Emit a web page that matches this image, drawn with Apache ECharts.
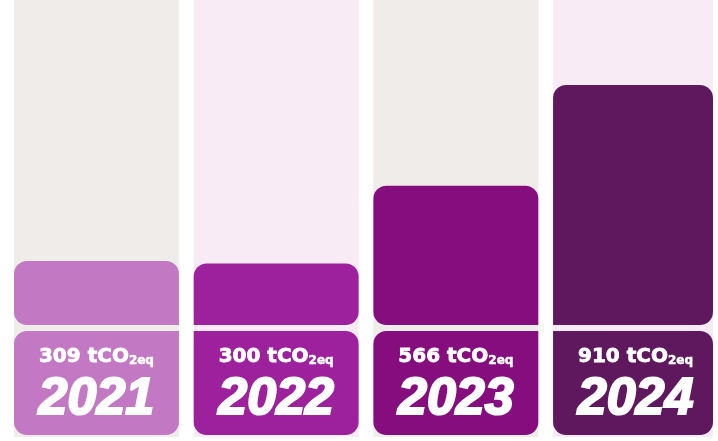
<!DOCTYPE html>
<html><head><meta charset="utf-8">
<script src="https://cdn.jsdelivr.net/npm/echarts@6/dist/echarts.min.js"></script>
<style>html,body{margin:0;padding:0;background:#fff}#c{width:718px;height:441px}</style>
</head><body><div id="c"></div>
<script>
// Data
const years = ['2021', '2022', '2023', '2024'];
const emissions = [309, 300, 566, 910];
const unitMain = 'tCO';
const unitSub = '2eq';
const barColors = ['#c278c3', '#9d209c', '#850d7e', '#5f185e'];
const bgColors = ['#f0ecea', '#f8ebf5', '#f0ecea', '#f8ebf5'];

const Y_MIN = 90, Y_MAX = 1200;
const R = 13;

const chart = echarts.init(document.getElementById('c'), null, { renderer: 'canvas' });

function renderItem(params, api) {
  const i = params.dataIndex;
  const v = api.value(1);
  const top = api.coord([i, v]);
  const base = api.coord([i, Y_MIN]);
  const band = api.size([1, 0])[0];
  const w = band * 0.918;
  const x0 = top[0] - w / 2;
  const limit = api.getWidth() - 5;
  const ww = Math.min(w, limit - x0);
  const cs = params.coordSys;
  const even = i % 2 === 0;
  const barR = even ? [R, R, 0, R] : [R, R, R, 0];
  const lblR = even ? [R, 0, R, R] : [0, R, R, R];
  return {
    type: 'group',
    children: [
      { type: 'rect', shape: { x: x0, y: cs.y, width: ww, height: base[1] + 112 - cs.y }, style: { fill: bgColors[i] } },
      { type: 'rect', shape: { x: x0, y: top[1], width: ww, height: base[1] - top[1], r: barR }, style: { fill: barColors[i] } },
      { type: 'rect', shape: { x: x0, y: base[1] + 6, width: ww, height: 104, r: lblR }, style: { fill: barColors[i] } },
      {
        type: 'text', x: top[0], y: base[1] + 32,
        style: {
          text: '{v|' + v + ' ' + unitMain + '}{s|' + unitSub + '}',
          align: 'center', verticalAlign: 'middle',
          rich: {
            v: { fontFamily: 'DejaVu Sans', fontWeight: 'bold', fontSize: 20, fill: '#fff', verticalAlign: 'bottom', stroke: '#fff', lineWidth: 0.8 },
            s: { fontFamily: 'DejaVu Sans', fontWeight: 'bold', fontSize: 12, fill: '#fff', verticalAlign: 'bottom', stroke: '#fff', lineWidth: 0.5 }
          }
        }
      },
      {
        type: 'text', x: top[0], y: base[1] + 75,
        style: {
          text: years[i], fill: '#fff', align: 'center', verticalAlign: 'middle',
          fontFamily: 'Liberation Sans', fontWeight: 'bold', fontStyle: 'italic', fontSize: 52,
          stroke: '#fff', lineWidth: 2.2
        }
      }
    ]
  };
}

chart.setOption({
  animation: false,
  grid: { left: 6.6, width: 718.8, top: 0, height: 325, outerBoundsMode: 'none' },
  xAxis: { type: 'category', data: years, show: false },
  yAxis: { type: 'value', min: Y_MIN, max: Y_MAX, show: false },
  series: [{
    type: 'custom',
    renderItem: renderItem,
    encode: { x: 0, y: 1 },
    data: emissions.map((v, i) => [i, v])
  }]
});
</script></body></html>
